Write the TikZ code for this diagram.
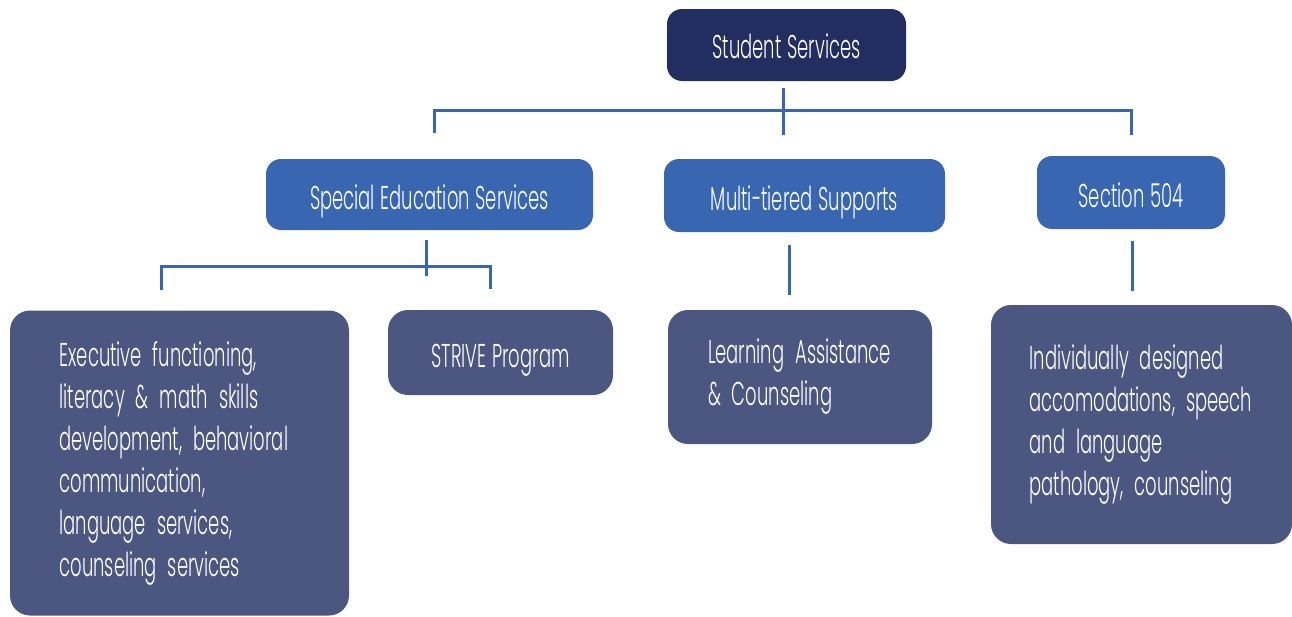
\documentclass[tikz,border=0pt]{standalone}
\usepackage{fontspec}
\setmainfont{Poppins}[UprightFont=* Light, FakeStretch=0.545, WordSpace=1.15]
\definecolor{navybox}{RGB}{34,46,96}
\definecolor{midblue}{RGB}{56,102,176}
\definecolor{leafbox}{RGB}{75,87,128}
\tikzset{
    headbox/.style={fill=navybox, text=white, rounded corners=15pt, inner sep=0pt, text height=26pt, text depth=0pt},
    groupbox/.style={fill=midblue, text=white, rounded corners=15pt, inner sep=0pt, text height=29pt, text depth=0pt},
    leafnode/.style={fill=leafbox, text=white, rounded corners=20pt, inner sep=0pt, align=left},
    link/.style={draw=midblue, line width=3pt}
}
\begin{document}
\begin{tikzpicture}[x=1pt, y={(0pt,-1pt)}, font=\fontsize{33}{42}\selectfont]
    \useasboundingbox (0,0) rectangle (1292,616);
    % top level
    \node[headbox, minimum width=239pt, minimum height=72pt] (top) at (786.5,45) {Student Services};
    % second level
    \node[groupbox, minimum width=327pt, minimum height=71pt] (sped) at (429.5,194.5) {Special Education Services};
    \node[groupbox, minimum width=281pt, minimum height=73pt] (multi) at (804.5,195.5) {Multi-tiered Supports};
    \node[groupbox, minimum width=188pt, minimum height=73pt] (sec504) at (1131,192.5) {Section 504};
    % leaves
    \node[leafnode, text width=240pt, minimum width=339pt, minimum height=305pt] (exec) at (179.5,463)
        {Executive functioning,\\literacy \& math skills\\development, behavioral\\communication,\\language services,\\counseling services};
    \node[leafnode, text height=30pt, text depth=0pt, minimum width=225pt, minimum height=85pt] (strive) at (500.5,352.5) {STRIVE Program};
    \node[leafnode, text width=184pt, minimum width=264pt, minimum height=134pt] (learn) at (800,377)
        {Learning Assistance\\\& Counseling};
    \node[leafnode, text width=224pt, minimum width=301pt, minimum height=239pt] (indiv) at (1141.5,424.5)
        {Individually designed\\accomodations, speech\\and language\\pathology, counseling};
    % connectors
    \draw[link] ([xshift=-3pt,yshift=-7pt]top.south) -- ++(0,47);
    \draw[link] ([xshift=4.5pt,yshift=26pt]sped.north) |- ([yshift=-29pt]top.south) -| ([yshift=21pt]sec504.north);
    \draw[link] ([xshift=-3.5pt,yshift=-10pt]sped.south) -- ++(0,36);
    \draw[link] ([xshift=-18.5pt,yshift=20pt]exec.north) |- ([yshift=-36pt]sped.south) -| ([xshift=-10.5pt,yshift=21pt]strive.north);
    \draw[link] ([xshift=-15.5pt,yshift=-13pt]multi.south) -- ++(0,50);
    \draw[link] ([xshift=1pt,yshift=-12pt]sec504.south) -- ++(0,50);
\end{tikzpicture}
\end{document}
